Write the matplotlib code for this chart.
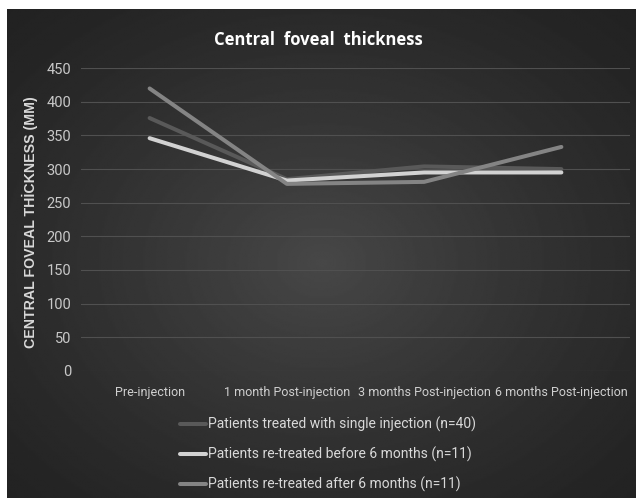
import numpy as np
import matplotlib
matplotlib.use("Agg")
import matplotlib.pyplot as plt

# data
timepoints = ["Pre-injection", "1 month Post-injection",
              "3 months Post-injection", "6 months Post-injection"]
single_injection = [376, 285, 304, 300]
retreated_before = [346, 283, 295, 295]
retreated_after = [420, 278, 281, 333]
series_labels = ["Patients treated with single injection (n=40)",
                 "Patients re-treated before 6 months (n=11)",
                 "Patients re-treated after 6 months (n=11)"]
series_colors = ["#595959", "#d2d2d2", "#848484"]
yticks = list(range(0, 451, 50))

narrow = ["Roboto", "DejaVu Sans"]

fig = plt.figure(figsize=(6.36, 4.98), dpi=100, facecolor="white")

# dark radial-gradient background like the Office chart style
bg = fig.add_axes([7 / 636, 0, 629 / 636, 489 / 498])
yy, xx = np.mgrid[0:1:300j, 0:1:400j]
r = np.sqrt(((xx - 0.5) / 0.75) ** 2 + ((yy - 0.52) / 0.75) ** 2)
shade = 0.13 + 0.15 * np.clip(1 - r, 0, 1) ** 1.3
bg.imshow(shade, cmap="gray", vmin=0, vmax=1, aspect="auto",
          extent=[0, 1, 0, 1], interpolation="bilinear")
bg.axis("off")

ax = fig.add_axes([81 / 636, 1 - 370.7 / 498, 549 / 636, 302.4 / 498])
ax.set_facecolor("none")

x = np.arange(len(timepoints))
for vals, lab, col in zip([single_injection, retreated_before, retreated_after],
                          series_labels, series_colors):
    ax.plot(x, vals, color=col, lw=2.9, label=lab, solid_capstyle="round",
            solid_joinstyle="round")

ax.set_xlim(-0.5, len(timepoints) - 0.5)
ax.set_ylim(0, 450)
ax.set_yticks(yticks)
ax.set_xticks(x)
ax.set_xticklabels(timepoints, family=narrow, fontsize=9, color="#d0d0d0")
for t in ax.get_yticklabels():
    t.set_family(narrow)
    t.set_fontsize(10.5)
    t.set_color("#c8c8c8")
ax.tick_params(axis="x", length=0, pad=11)
ax.tick_params(axis="y", length=0, pad=7)
ax.grid(axis="y", color="#505050", lw=0.8)
ax.set_axisbelow(True)
for s in ax.spines.values():
    s.set_visible(False)

ax.set_ylabel("CENTRAL FOVEAL THİCKNESS (MM)", fontsize=10.2, fontweight="bold",
              color="#d9d9d9", family=["Liberation Sans", "DejaVu Sans"])
ax.yaxis.set_label_coords(-0.078, 0.49)

fig.text(318 / 636, 1 - 40 / 498, "Central  foveal  thickness", ha="center",
         va="center", fontsize=12, fontweight="bold", color="white",
         family=["Open Sans", "DejaVu Sans"])

leg = fig.legend(loc="upper left", bbox_to_anchor=(180 / 636, 1 - 417 / 498),
                 frameon=False, prop={"family": narrow, "size": 10},
                 handlelength=1.9, handletextpad=0.1, labelspacing=1.05,
                 borderpad=0, borderaxespad=0)
for t in leg.get_texts():
    t.set_color("#d9d9d9")

fig.savefig("out.png", dpi=100, facecolor="white")
